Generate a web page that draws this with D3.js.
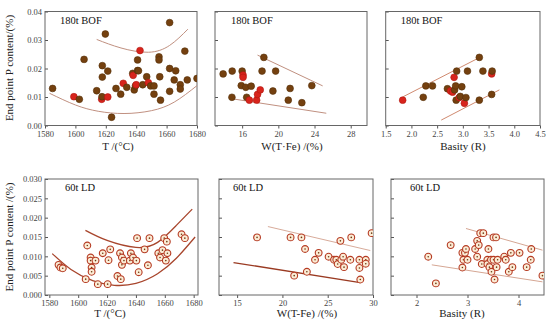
<!DOCTYPE html>
<html><head><meta charset="utf-8">
<script src="https://cdn.jsdelivr.net/npm/d3@7"></script>
<style>
html,body{margin:0;padding:0;background:#fff;}
svg{display:block;font-family:"Liberation Serif","Times New Roman",serif;}
</style></head>
<body>
<svg id="chart" width="550" height="324"></svg>
<script>
// ---------------- DATA ----------------
// 180t BOF : temperature (x), P content (y), red flag
const bofTempX = [1585,1599,1602.6,1605.7,1614,1617.3,1617.5,1619.7,1617.7,1617.7,1621.3,1621.3,1623.8,1626.7,1629.8,1631.5,1633.8,1637.7,1638,1638.7,1639.5,1640,1640.9,1640.9,1642.5,1641.5,1644.3,1646.9,1648,1649.5,1651.7,1651.7,1655,1655,1655.5,1656,1662,1662,1662,1665,1666,1669,1669,1672,1673.6,1680];
const bofTempY = [0.0130,0.0101,0.0092,0.0232,0.0122,0.0092,0.0101,0.0321,0.0210,0.0170,0.0191,0.0100,0.0029,0.0130,0.0110,0.0148,0.0134,0.0183,0.0176,0.0125,0.0139,0.0143,0.0230,0.0193,0.0263,0.0192,0.0143,0.0171,0.0150,0.0139,0.0139,0.0110,0.0241,0.0230,0.0171,0.0089,0.0361,0.0200,0.0120,0.0160,0.0192,0.0143,0.0128,0.0261,0.0160,0.0165];
const bofTempRed = [0,1,0,0,0,1,0,0,0,0,0,1,0,0,0,1,0,0,1,0,0,1,0,0,1,0,0,0,1,0,0,0,0,0,0,0,0,0,0,0,0,0,0,0,0,0];
const bofTempUpper = [[1614,0.0302],[1630,0.0272],[1648,0.0257],[1662,0.0281],[1674,0.0338]];
const bofTempLower = [[1583,0.0113],[1600,0.0072],[1615,0.0050],[1632,0.0042],[1650,0.0052],[1665,0.0082],[1680,0.0140]];

// 180t BOF : W(T.Fe)
const bofFeX = [13.9,14.9,14.87,16.0,16.1,16.1,15.9,16.4,17.0,16.5,16.8,17.6,17.7,18.0,18.2,18.4,19.4,19.7,21.1,21.3,22.6,23.7];
const bofFeY = [0.0181,0.0191,0.0099,0.0191,0.0177,0.0169,0.0140,0.0134,0.0138,0.0099,0.0089,0.0089,0.0109,0.0125,0.0191,0.0239,0.0121,0.0191,0.0089,0.0130,0.0080,0.0140];
const bofFeRed = [0,0,0,0,1,1,0,0,0,0,1,1,1,1,0,0,0,0,0,0,0,0];
const bofFeUpper = [[17.7,0.0247],[24.9,0.0139]];
const bofFeLower = [[15.05,0.0093],[25.3,0.0043]];

// 180t BOF : basicity
const bofBasX = [1.83,2.23,2.28,2.41,2.70,2.76,2.80,2.83,2.84,2.86,2.88,2.87,2.93,2.95,2.98,3.03,3.06,3.09,3.32,3.32,3.39,3.56,3.57,3.56];
const bofBasY = [0.0089,0.0099,0.0139,0.0139,0.0129,0.0121,0.0117,0.0169,0.0125,0.0139,0.0191,0.0089,0.0098,0.0102,0.0136,0.0078,0.0098,0.0191,0.0239,0.0089,0.0191,0.0181,0.0191,0.0109];
const bofBasRed = [1,0,0,0,0,1,1,1,0,0,0,0,1,0,0,1,0,0,0,0,0,1,0,0];
const bofBasUpper = [[1.84,0.0101],[3.33,0.0239]];
const bofBasLower = [[2.58,0.0019],[3.71,0.0125]];

// 60t LD : temperature
const ldTempX = [1586.4,1587.7,1589.3,1605.2,1606.3,1608.6,1608.6,1609.3,1609.3,1612,1613.6,1617,1620.4,1621,1622.2,1627.2,1629,1629.5,1630.3,1630.3,1631.7,1635.8,1636.5,1638,1640.3,1640.8,1641.9,1646,1648.3,1649.4,1655.5,1656.7,1658.4,1659.6,1660.7,1661.8,1661.4,1671.6,1673.9];
const ldTempY = [0.0078,0.0071,0.0069,0.0041,0.0128,0.0097,0.0089,0.0071,0.0060,0.0089,0.0028,0.0108,0.0028,0.0090,0.0118,0.0049,0.0108,0.0041,0.0097,0.0078,0.0089,0.0089,0.0108,0.0097,0.0089,0.0147,0.0059,0.0118,0.0077,0.0147,0.0108,0.0097,0.0116,0.0147,0.0089,0.0108,0.0138,0.0157,0.0147];
const ldTempUpper = [[1605,0.0167],[1620,0.0141],[1640,0.0123],[1655,0.0136],[1668,0.0180],[1679,0.0222]];
const ldTempLower = [[1582,0.0107],[1595,0.0066],[1610,0.0037],[1625,0.0025],[1640,0.0030],[1655,0.0055],[1668,0.0095],[1681,0.0150]];

// 60t LD : W(T-Fe)
const ldFeX = [17.2,20.9,22.1,22.5,21.3,22.7,23.6,24.0,25.1,25.7,25.95,26.1,26.4,26.5,26.7,26.8,27.5,27.6,28.5,28.5,28.6,29.2,29.2,29.85];
const ldFeY = [0.0149,0.0149,0.0149,0.0119,0.0050,0.0060,0.0091,0.0109,0.0099,0.0091,0.0091,0.0080,0.0140,0.0091,0.0099,0.0072,0.0091,0.0149,0.0091,0.0070,0.0040,0.0091,0.0081,0.0160];
const ldFeUpper = [[18.4,0.0177],[29.7,0.0115]];
const ldFeLower = [[14.6,0.0084],[28.6,0.0032]];

// 60t LD : basicity
const ldBasX = [2.23,2.38,2.67,2.90,2.92,2.90,2.95,2.97,3.00,3.15,3.19,3.19,3.22,3.25,3.31,3.28,3.41,3.39,3.39,3.43,3.46,3.47,3.51,3.56,3.51,3.53,3.57,3.59,3.72,3.75,3.81,3.85,3.88,4.02,4.16,4.24,4.25,4.47];
const ldBasY = [0.0099,0.0030,0.0129,0.0109,0.0091,0.0071,0.0109,0.0119,0.0091,0.0119,0.0099,0.0140,0.0129,0.0160,0.0160,0.0080,0.0119,0.0091,0.0080,0.0072,0.0091,0.0060,0.0149,0.0149,0.0091,0.0040,0.0072,0.0091,0.0099,0.0091,0.0060,0.0109,0.0072,0.0109,0.0072,0.0091,0.0119,0.0050];
const ldBasUpper = [[2.97,0.0172],[4.47,0.0116]];
const ldBasLower = [[2.30,0.0078],[4.47,0.0034]];

// ticks / labels
const tempTicks = [1580,1600,1620,1640,1660,1680];
const feTicksTop = [16,20,24,28];
const basTicksTop = [1.5,2.0,2.5,3.0,3.5,4.0,4.5];
const feTicksBot = [15,20,25,30];
const basTicksBot = [2,3,4];
const yTicksTop = [0,0.01,0.02,0.03,0.04];
const yTicksBot = [0,0.005,0.010,0.015,0.020,0.025,0.030];

// ---------------- DRAWING ----------------
const FONT = "'Liberation Serif','Times New Roman',serif";
const svg = d3.select("#chart");
const zip = (xs, ys) => xs.map((x,i)=>[x, ys[i]]);

const panels = [
  {box:[45,197,11.5,125.5], xd:[1580,1680], yd:[0,0.04], xt:tempTicks, xf:d3.format("d"), yt:yTicksTop, yf:d3.format(".2f"), ylab:true,
   pts:zip(bofTempX,bofTempY), red:bofTempRed, style:"filled", curves:[{d:bofTempUpper,c:"#c09080",w:1},{d:bofTempLower,c:"#c09080",w:1}],
   tag:"180t BOF", tagdx:15, title:"T  /(°C)", tx:118, ty:150},
  {box:[215,367,11.5,125.5], xd:[13,29.8], yd:[0,0.04], xt:feTicksTop, xf:d3.format("d"), yt:yTicksTop, ylab:false,
   pts:zip(bofFeX,bofFeY), red:bofFeRed, style:"filled", curves:[{d:bofFeUpper,c:"#c09080",w:1},{d:bofFeLower,c:"#c09080",w:1}],
   tag:"180t BOF", tagdx:16, title:"W(T·Fe) /(%)", tx:292, ty:150},
  {box:[385.7,540,11.5,125.5], xd:[1.5,4.5], yd:[0,0.04], xt:basTicksTop, xf:d3.format(".1f"), yt:yTicksTop, ylab:false,
   pts:zip(bofBasX,bofBasY), red:bofBasRed, style:"filled", curves:[{d:bofBasUpper,c:"#d08a70",w:1},{d:bofBasLower,c:"#d08a70",w:1}],
   tag:"180t BOF", tagdx:15, title:"Basity (R)", tx:463, ty:150},
  {box:[45,198,179,295], xd:[1577,1683], yd:[0,0.03], xt:tempTicks, xf:d3.format("d"), yt:yTicksBot, yf:d3.format(".3f"), ylab:true,
   pts:zip(ldTempX,ldTempY), style:"hollow", curves:[{d:ldTempUpper,c:"#a8452c",w:1.3},{d:ldTempLower,c:"#a8452c",w:1.3}],
   tag:"60t LD", tagdx:20, title:"T /(°C)", tx:110, ty:317},
  {box:[219,373,179,295], xd:[13,30], yd:[0,0.03], xt:feTicksBot, xf:d3.format("d"), yt:yTicksBot, ylab:false,
   pts:zip(ldFeX,ldFeY), style:"hollow", curves:[{d:ldFeUpper,c:"#d8ab9a",w:1},{d:ldFeLower,c:"#9a3a22",w:1.3}],
   tag:"60t LD", tagdx:14, title:"W(T-Fe) /(%)", tx:307, ty:317},
  {box:[391,544,179,295], xd:[1.5,4.5], yd:[0,0.03], xt:basTicksBot, xf:d3.format("d"), yt:yTicksBot, ylab:false,
   pts:zip(ldBasX,ldBasY), style:"hollow", curves:[{d:ldBasUpper,c:"#d5a693",w:1},{d:ldBasLower,c:"#d5a693",w:1}],
   tag:"60t LD", tagdx:19, title:"Basity (R)", tx:462, ty:317}
];

panels.forEach((p,pi)=>{
  const [x0,x1,y0,y1] = p.box;
  const x = d3.scaleLinear().domain(p.xd).range([x0,x1]);
  const y = d3.scaleLinear().domain(p.yd).range([y1,y0]);
  const g = svg.append("g");
  const clipId = "clip"+pi;
  svg.append("clipPath").attr("id",clipId).append("rect")
    .attr("x",x0).attr("y",y0).attr("width",x1-x0).attr("height",y1-y0);

  // axes
  const xa = g.append("g").attr("transform",`translate(0,${y1})`)
    .call(d3.axisBottom(x).tickValues(p.xt).tickFormat(p.xf).tickSizeInner(3).tickSizeOuter(0).tickPadding(2));
  const ya = g.append("g").attr("transform",`translate(${x0},0)`)
    .call(d3.axisLeft(y).tickValues(p.yt).tickFormat(p.ylab ? p.yf : "").tickSizeInner(-3).tickSizeOuter(0).tickPadding(3));
  [xa,ya].forEach(a=>{
    a.attr("font-family",FONT).attr("font-size",8.5);
    a.select(".domain").remove();
    a.selectAll("line").attr("stroke","#555");
    a.selectAll("text").attr("fill","#444").attr("font-family",FONT).style("font-family",FONT).style("font-size","8.5px");
  });
  ya.selectAll("text").attr("dy","0.32em");

  // frame
  g.append("rect").attr("x",x0).attr("y",y0).attr("width",x1-x0).attr("height",y1-y0)
    .attr("fill","none").attr("stroke","#666").attr("stroke-width",1);

  // curves
  const line = d3.line().x(d=>x(d[0])).y(d=>y(d[1])).curve(d3.curveNatural);
  const cg = g.append("g").attr("clip-path",`url(#${clipId})`);
  p.curves.forEach(c=>{
    cg.append("path").attr("d",line(c.d)).attr("fill","none").attr("stroke",c.c).attr("stroke-width",c.w);
  });

  // points
  const pg = g.append("g").attr("clip-path",`url(#${clipId})`);
  if (p.style==="filled"){
    pg.selectAll("circle").data(p.pts).join("circle")
      .attr("cx",d=>x(d[0])).attr("cy",d=>y(d[1])).attr("r",3.4)
      .attr("fill",(d,i)=>p.red[i] ? "#d8241c" : "#74400f")
      .attr("stroke",(d,i)=>p.red[i] ? "#b01810" : "#55300a").attr("stroke-width",0.6);
  } else {
    const sel = pg.selectAll("g.pt").data(p.pts).join("g").attr("class","pt")
      .attr("transform",d=>`translate(${x(d[0])},${y(d[1])})`);
    sel.append("circle").attr("r",3.4).attr("fill","#fbecd6").attr("stroke","#b53a22").attr("stroke-width",1.1);
    sel.append("circle").attr("r",0.8).attr("fill","#6b3a10");
  }

  // tag
  g.append("text").attr("x",x0+p.tagdx).attr("y",y0+12)
    .text(p.tag).style("font-size","10.5px").attr("fill","#111");
  // title
  g.append("text").attr("x",p.tx).attr("y",p.ty).attr("text-anchor","middle")
    .text(p.title).style("font-size","11px").attr("fill","#222");
});

// y axis titles
svg.append("text").attr("transform","translate(13,68) rotate(-90)").attr("text-anchor","middle")
  .text("End point P content/(%)").style("font-size","11px").attr("fill","#222");
svg.append("text").attr("transform","translate(13,237) rotate(-90)").attr("text-anchor","middle")
  .text("End point P content /(%)").style("font-size","11px").attr("fill","#222");
</script>
</body></html>
